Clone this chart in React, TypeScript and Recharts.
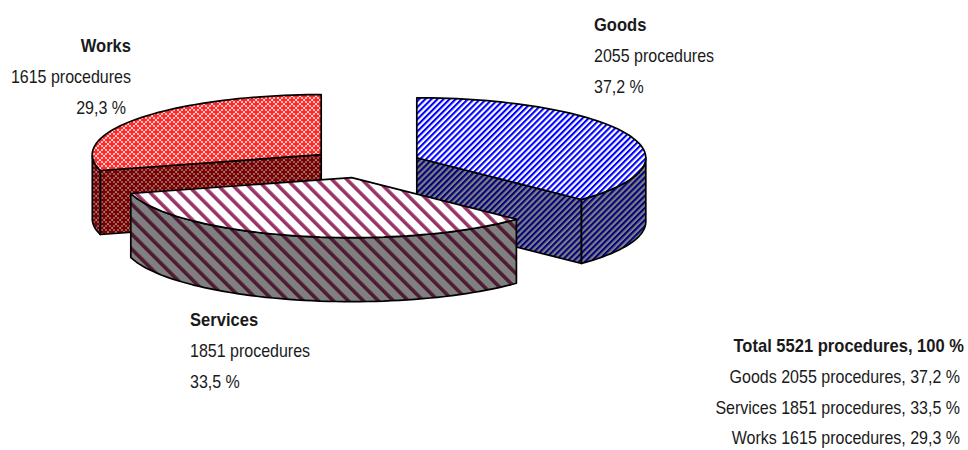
import React from "react";
import { PieChart, Pie } from "recharts";

// Drawn back to front, so Services overlaps the other slices
const categories = ["Works", "Goods", "Services"];
const procedures = [1615, 2055, 1851];
const percents = ["29,3", "37,2", "33,5"];
const totalProcedures = 5521;

const summaryTitle = "Total 5521 procedures, 100 %";
const summaryNames = ["Goods", "Services", "Works"];
const summaryCounts = [2055, 1851, 1615];
const summaryPercents = ["37,2", "33,5", "29,3"];

const tableRows = categories.map((name, i) => ({ name, value: procedures[i], percent: percents[i] }));

const W = 968;
const H = 450;
const CX = 365.5;
const CY = 163.5;
const RX = 229;
const SQUASH = 60 / 229;
const DEPTH = 64;
const EXPLODE = 55.7;
const FIRST_ANGLE = 90 + (procedures[0] / totalProcedures) * 360;
const FONT = '"Liberation Sans", Arial, sans-serif';
const TEXT = "#1a1a1a";

const TOP_FILL: Record<string, string> = { Works: "url(#worksTop)", Goods: "url(#goodsTop)", Services: "url(#servicesTop)" };
const WALL_FILL: Record<string, string> = { Works: "url(#worksWall)", Goods: "url(#goodsWall)", Services: "url(#servicesWall)" };

const rad = (d: number) => (d * Math.PI) / 180;

function Slice3D(props: any) {
  const { cx, cy, outerRadius, startAngle, endAngle, payload } = props;
  const name = payload?.name ?? props.name;
  const mid = (startAngle + endAngle) / 2;
  const ox = cx + EXPLODE * Math.cos(rad(mid));
  const oy = cy - EXPLODE * SQUASH * Math.sin(rad(mid));
  const at = (a: number): [number, number] => [ox + outerRadius * Math.cos(rad(a)), oy - outerRadius * SQUASH * Math.sin(rad(a))];
  const step = endAngle < startAngle ? -1 : 1;
  const angles: number[] = [];
  for (let a = startAngle; step * (a - endAngle) < 0; a += step * 2) angles.push(a);
  angles.push(endAngle);

  const toPath = (pts: [number, number][]) => "M" + pts.map((p) => p[0].toFixed(1) + " " + p[1].toFixed(1)).join("L") + "Z";
  const topPts: [number, number][] = [[ox, oy], ...angles.map(at)];
  const front = angles.filter((a) => Math.sin(rad(a)) <= 0.001);
  const walls: string[] = [];
  const cutWall = (a: number) => {
    const p = at(a);
    walls.push(toPath([[ox, oy], p, [p[0], p[1] + DEPTH], [ox, oy + DEPTH]]));
  };
  if (Math.cos(rad(startAngle)) < -0.001) cutWall(startAngle);
  if (Math.cos(rad(endAngle)) > 0.001) cutWall(endAngle);
  if (front.length > 1) {
    const upper = front.map(at);
    const lower = front.map(at).reverse().map((p) => [p[0], p[1] + DEPTH] as [number, number]);
    walls.push(toPath([...upper, ...lower]));
  }
  return (
    <g>
      {walls.map((d, i) => (
        <path key={i} d={d} fill={WALL_FILL[name]} stroke="#000" strokeWidth={1.7} strokeLinejoin="round" />
      ))}
      <path d={toPath(topPts)} fill={TOP_FILL[name]} stroke="#000" strokeWidth={1.7} strokeLinejoin="round" />
    </g>
  );
}

function Stripes({ id, bg, fg, period, band, angle }: { id: string; bg: string; fg: string; period: number; band: number; angle: number }) {
  return (
    <pattern id={id} patternUnits="userSpaceOnUse" width={period} height={period} patternTransform={`rotate(${angle})`}>
      <rect width={period} height={period} fill={bg} />
      <rect width={band} height={period} fill={fg} />
    </pattern>
  );
}

function Weave({ id, bg, fg, dot }: { id: string; bg: string; fg: string; dot: string }) {
  // Two staggered crosses on an 8px tile, the first wrapping round the tile edges
  return (
    <pattern id={id} patternUnits="userSpaceOnUse" width={8} height={8}>
      <rect width={8} height={8} fill={bg} />
      <rect x={3} y={1} width={2} height={6} fill={fg} />
      <rect x={1} y={3} width={6} height={2} fill={fg} />
      <rect x={0} y={0} width={1} height={3} fill={fg} />
      <rect x={7} y={0} width={1} height={3} fill={fg} />
      <rect x={0} y={5} width={1} height={3} fill={fg} />
      <rect x={7} y={5} width={1} height={3} fill={fg} />
      <rect x={0} y={0} width={3} height={1} fill={fg} />
      <rect x={5} y={0} width={3} height={1} fill={fg} />
      <rect x={0} y={7} width={3} height={1} fill={fg} />
      <rect x={5} y={7} width={3} height={1} fill={fg} />
      <rect x={3.5} y={0} width={1} height={1} fill={dot} />
      <rect x={0} y={3.5} width={1} height={1} fill={dot} />
    </pattern>
  );
}

const T = ({ x, y, anchor = "start", bold = false, children }: any) => (
  <text
    transform={`translate(${x} ${y}) scale(${bold ? 0.92 : 0.89} 1)`}
    textAnchor={anchor}
    fontFamily={FONT}
    fontSize={18}
    fontWeight={bold ? 700 : 400}
    fill={TEXT}
  >
    {children}
  </text>
);

export default function App() {
  return (
    <div style={{ position: "absolute", left: 0, top: 0, width: W, height: H }}>
      <PieChart width={W} height={H} margin={{ top: 0, right: 0, bottom: 0, left: 0 }}>
        <defs>
          <Stripes id="goodsTop" bg="#ffffff" fg="#0000ff" period={4.3} band={2.1} angle={45} />
          <Stripes id="goodsWall" bg="#808080" fg="#000080" period={4.3} band={2.1} angle={45} />
          <Stripes id="servicesTop" bg="#ffffff" fg="#993366" period={10.6} band={3.6} angle={-45} />
          <Stripes id="servicesWall" bg="#808080" fg="#4d1933" period={10.6} band={3.6} angle={-45} />
          <Weave id="worksTop" bg="#ffb8b8" fg="#ff2a2a" dot="#ffffff" />
          <Weave id="worksWall" bg="#8c5a5a" fg="#800000" dot="#a8a8a8" />
        </defs>
        <Pie
          data={tableRows}
          dataKey="value"
          nameKey="name"
          cx={CX}
          cy={CY}
          innerRadius={0}
          outerRadius={RX}
          startAngle={FIRST_ANGLE}
          endAngle={FIRST_ANGLE - 360}
          paddingAngle={0}
          stroke="none"
          shape={Slice3D}
          isAnimationActive={false}
          label={false}
          labelLine={false}
        />
        <T x={131} y={52} anchor="end" bold>{categories[0]}</T>
        <T x={131} y={83} anchor="end">{procedures[0]} procedures</T>
        <T x={126} y={114} anchor="end">{percents[0]} %</T>

        <T x={594} y={31} bold>{categories[1]}</T>
        <T x={594} y={62}>{procedures[1]} procedures</T>
        <T x={594} y={93}>{percents[1]} %</T>

        <T x={190} y={326} bold>{categories[2]}</T>
        <T x={190} y={357}>{procedures[2]} procedures</T>
        <T x={190} y={388}>{percents[2]} %</T>

        <T x={964} y={352} anchor="end" bold>{summaryTitle}</T>
        {summaryNames.map((n, i) => (
          <T key={n} x={960} y={383 + i * 30.5} anchor="end">
            {n} {summaryCounts[i]} procedures, {summaryPercents[i]} %
          </T>
        ))}
      </PieChart>
    </div>
  );
}
